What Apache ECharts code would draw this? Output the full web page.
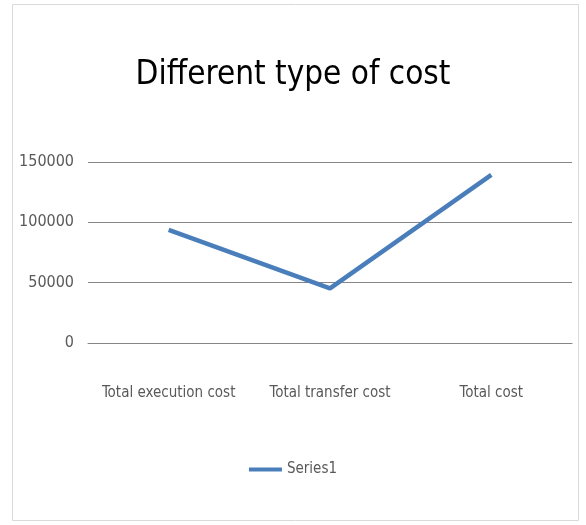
<!DOCTYPE html>
<html>
<head>
<meta charset="utf-8">
<script src="https://cdn.jsdelivr.net/npm/echarts@6/dist/echarts.min.js"></script>
<style>
  html, body { margin: 0; padding: 0; background: #ffffff; }
  #chart { width: 586px; height: 525px; }
</style>
</head>
<body>
<div id="chart"></div>
<script>
// Cost categories and their totals
const categories = ['Total execution cost', 'Total transfer cost', 'Total cost'];
const series1Values = [93700, 45300, 139300];
const seriesName = 'Series1';
const titleText = 'Different type of cost';
const yTicks = [0, 50000, 100000, 150000];

const narrow = '"DejaVu Sans Condensed", "Liberation Sans Narrow", sans-serif';

const chart = echarts.init(document.getElementById('chart'), null, { renderer: 'canvas' });
chart.setOption({
  backgroundColor: '#ffffff',
  animation: false,
  graphic: [{
    type: 'rect',
    shape: { x: 12.5, y: 4.5, width: 566, height: 516 },
    style: { fill: 'none', stroke: '#d9d9d9', lineWidth: 1 },
    silent: true
  }],
  title: {
    text: titleText,
    left: 'center',
    top: 54,
    textStyle: { fontFamily: narrow, fontSize: 33, fontWeight: 'normal', color: '#000000' }
  },
  legend: {
    data: [seriesName],
    bottom: 43,
    left: 'center',
    icon: 'rect',
    itemWidth: 33,
    itemHeight: 4,
    itemGap: 4,
    textStyle: { fontFamily: narrow, fontSize: 15, color: '#595959' }
  },
  grid: { left: 88, right: 14, top: 162, bottom: 182, containLabel: false },
  xAxis: {
    type: 'category',
    data: categories,
    boundaryGap: true,
    axisLine: { show: true, lineStyle: { color: '#868686', width: 1 } },
    axisTick: { show: false },
    axisLabel: { margin: 43, fontFamily: narrow, fontSize: 15, color: '#595959', interval: 0 }
  },
  yAxis: {
    type: 'value',
    min: yTicks[0],
    max: yTicks[yTicks.length - 1],
    interval: yTicks[1] - yTicks[0],
    axisLine: { show: false },
    axisTick: { show: false },
    axisLabel: {
      margin: 14, fontFamily: narrow, fontSize: 16, color: '#595959',
      formatter: v => String(v)
    },
    splitLine: { lineStyle: { color: '#868686', width: 1 } }
  },
  series: [{
    name: seriesName,
    type: 'line',
    data: series1Values,
    symbol: 'none',
    lineStyle: { color: '#4a7ebb', width: 4.5 },
    itemStyle: { color: '#4a7ebb' }
  }]
});
</script>
</body>
</html>
